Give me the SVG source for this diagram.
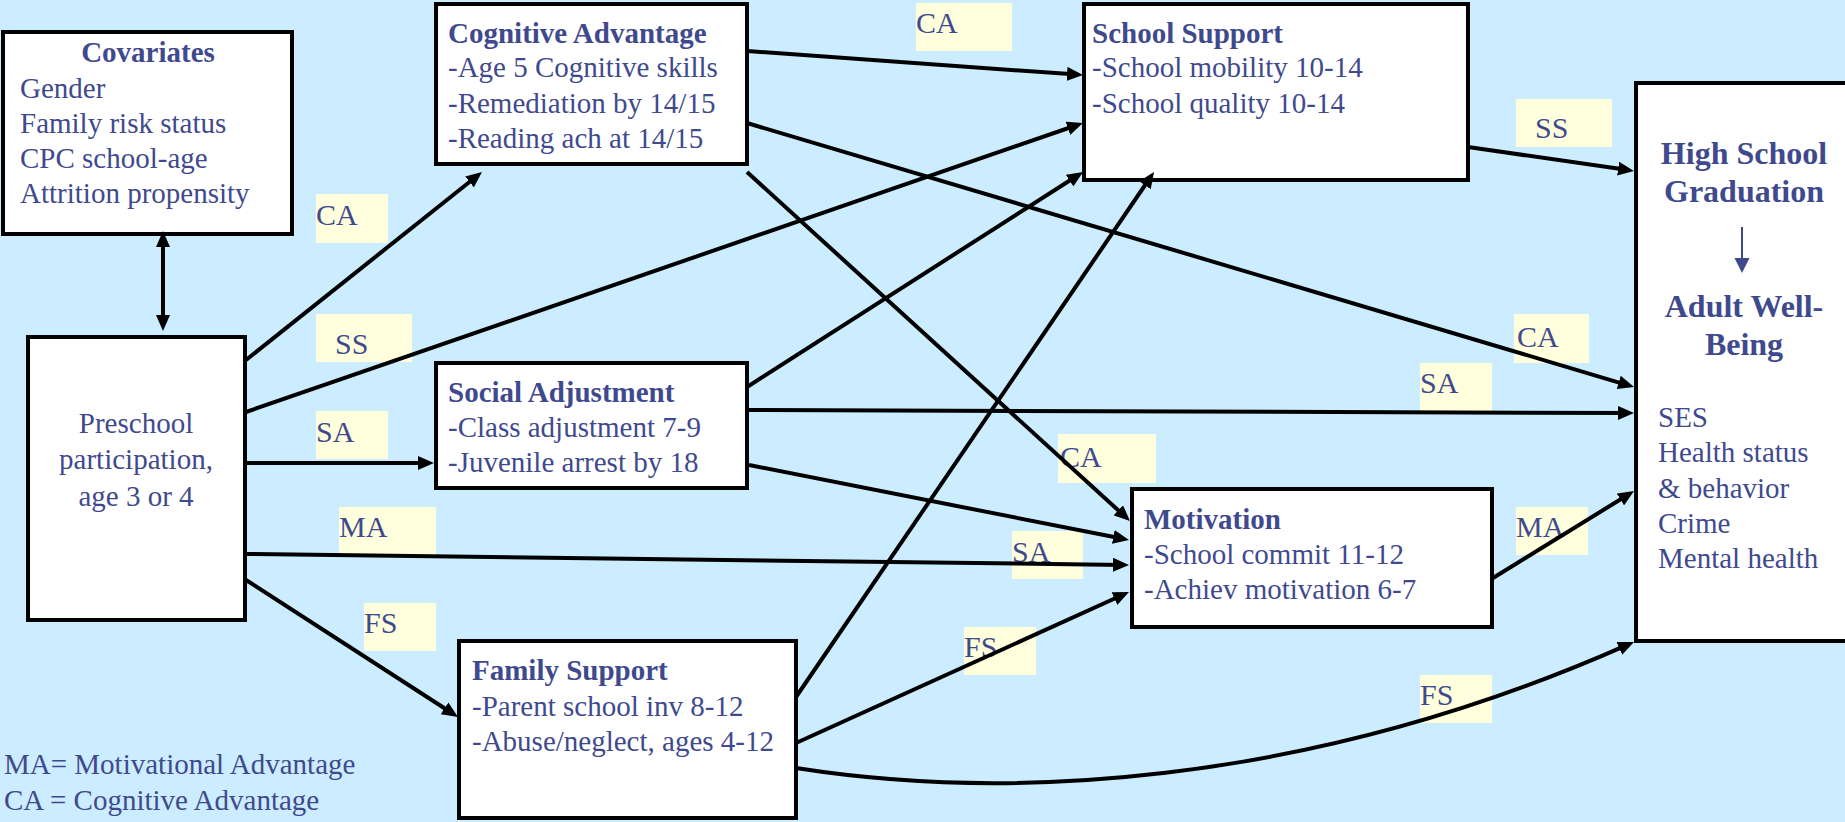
<svg xmlns="http://www.w3.org/2000/svg" width="1845" height="822" viewBox="0 0 1845 822">
<style>
.box{fill:#ffffff;stroke:#000000;stroke-width:4}
.t{font-family:"Liberation Serif","Times New Roman",serif;font-size:29px;fill:#3f4a8e}
.b{font-weight:bold}
.big{font-family:"Liberation Serif","Times New Roman",serif;font-size:32px;font-weight:bold;fill:#3f4a8e}
.lbl{fill:#ffffdd}
.lt{font-family:"Liberation Serif","Times New Roman",serif;font-size:30px;fill:#3f4a8e}
.c{fill:none;stroke:#000000;stroke-width:4}
</style>
<defs>
<marker id="ah" viewBox="0 0 16 14" refX="10" refY="7" markerWidth="16" markerHeight="14" markerUnits="userSpaceOnUse" orient="auto-start-reverse">
<path d="M0,0 L16,7 L0,14 z" fill="#000000"/>
</marker>
</defs>
<rect x="0" y="0" width="1845" height="822" fill="#ccecff"/>

<g id="labels">
<rect class="lbl" x="916" y="3" width="96" height="48"/><text class="lt" x="916" y="33">CA</text>
<rect class="lbl" x="316" y="194" width="72" height="49"/><text class="lt" x="316" y="225">CA</text>
<rect class="lbl" x="316" y="314" width="96" height="48"/><text class="lt" x="335" y="354">SS</text>
<rect class="lbl" x="316" y="411" width="72" height="48"/><text class="lt" x="316" y="442">SA</text>
<rect class="lbl" x="339" y="507" width="97" height="48"/><text class="lt" x="339" y="537">MA</text>
<rect class="lbl" x="364" y="603" width="72" height="48"/><text class="lt" x="364" y="633">FS</text>
<rect class="lbl" x="1058" y="434" width="98" height="49"/><text class="lt" x="1060" y="467">CA</text>
<rect class="lbl" x="1012" y="531" width="71" height="48"/><text class="lt" x="1012" y="562">SA</text>
<rect class="lbl" x="964" y="627" width="72" height="48"/><text class="lt" x="964" y="657">FS</text>
<rect class="lbl" x="1516" y="99" width="96" height="48"/><text class="lt" x="1535" y="138">SS</text>
<rect class="lbl" x="1514" y="314" width="75" height="49"/><text class="lt" x="1517" y="347">CA</text>
<rect class="lbl" x="1420" y="363" width="72" height="50"/><text class="lt" x="1420" y="393">SA</text>
<rect class="lbl" x="1516" y="507" width="72" height="48"/><text class="lt" x="1516" y="537">MA</text>
<rect class="lbl" x="1420" y="675" width="72" height="48"/><text class="lt" x="1420" y="705">FS</text>
</g>

<g id="covariates">
<rect class="box" x="3" y="32" width="289" height="202"/>
<text class="t b" x="148" y="62" text-anchor="middle">Covariates</text>
<text class="t" x="20" y="98">Gender</text>
<text class="t" x="20" y="133">Family risk status</text>
<text class="t" x="20" y="168">CPC school-age</text>
<text class="t" x="20" y="203">Attrition propensity</text>
</g>

<g id="preschool">
<rect class="box" x="28" y="337" width="217" height="283"/>
<text class="t" x="136" y="433" text-anchor="middle">Preschool</text>
<text class="t" x="136" y="469" text-anchor="middle">participation,</text>
<text class="t" x="136" y="506" text-anchor="middle">age 3 or 4</text>
</g>

<g id="cognitive">
<rect class="box" x="436" y="4" width="311" height="160"/>
<text class="t b" x="448" y="43">Cognitive Advantage</text>
<text class="t" x="448" y="77">-Age 5 Cognitive skills</text>
<text class="t" x="448" y="113">-Remediation by 14/15</text>
<text class="t" x="448" y="148">-Reading ach at 14/15</text>
</g>

<g id="social">
<rect class="box" x="436" y="363" width="311" height="125"/>
<text class="t b" x="448" y="402">Social Adjustment</text>
<text class="t" x="448" y="437">-Class adjustment 7-9</text>
<text class="t" x="448" y="472">-Juvenile arrest by 18</text>
</g>

<g id="family">
<rect class="box" x="459" y="641" width="337" height="177"/>
<text class="t b" x="472" y="680">Family Support</text>
<text class="t" x="472" y="716">-Parent school inv 8-12</text>
<text class="t" x="472" y="751">-Abuse/neglect, ages 4-12</text>
</g>

<g id="school">
<rect class="box" x="1084" y="4" width="384" height="176"/>
<text class="t b" x="1092" y="43">School Support</text>
<text class="t" x="1092" y="77">-School mobility 10-14</text>
<text class="t" x="1092" y="113">-School quality 10-14</text>
</g>

<g id="motivation">
<rect class="box" x="1132" y="489" width="360" height="138"/>
<text class="t b" x="1144" y="529">Motivation</text>
<text class="t" x="1144" y="564">-School commit 11-12</text>
<text class="t" x="1144" y="599">-Achiev motivation 6-7</text>
</g>

<g id="outcome">
<rect class="box" x="1636" y="83" width="220" height="558"/>
<text class="big" x="1744" y="164" text-anchor="middle">High School</text>
<text class="big" x="1744" y="202" text-anchor="middle">Graduation</text>
<line x1="1742" y1="227" x2="1742" y2="260" stroke="#3f4a8e" stroke-width="2"/>
<path d="M1734.5,258 L1749.5,258 L1742,273 z" fill="#3f4a8e"/>
<text class="big" x="1744" y="317" text-anchor="middle">Adult Well-</text>
<text class="big" x="1744" y="355" text-anchor="middle">Being</text>
<text class="t" x="1658" y="427">SES</text>
<text class="t" x="1658" y="462">Health status</text>
<text class="t" x="1658" y="498">&amp; behavior</text>
<text class="t" x="1658" y="533">Crime</text>
<text class="t" x="1658" y="568">Mental health</text>
</g>

<g id="legend">
<text class="t" x="4" y="774">MA= Motivational Advantage</text>
<text class="t" x="4" y="810">CA = Cognitive Advantage</text>
</g>

<g id="connectors">
<path class="c" d="M163,237 L163,325" marker-start="url(#ah)" marker-end="url(#ah)"/>
<path class="c" d="M246,360 L477.3,175.7" marker-end="url(#ah)"/>
<path class="c" d="M246,412 L1077.3,125" marker-end="url(#ah)"/>
<path class="c" d="M246,463 L428,463" marker-end="url(#ah)"/>
<path class="c" d="M246,554 L1123,564.9" marker-end="url(#ah)"/>
<path class="c" d="M246,580 L453,713.7" marker-end="url(#ah)"/>
<path class="c" d="M747,51 L1077,74.6" marker-end="url(#ah)"/>
<path class="c" d="M747,123 L1628.3,385.3" marker-end="url(#ah)"/>
<path class="c" d="M747,172 L1125.6,517" marker-end="url(#ah)"/>
<path class="c" d="M747,387 L1078,175.2" marker-end="url(#ah)"/>
<path class="c" d="M748,410 L1628,413" marker-end="url(#ah)"/>
<path class="c" d="M749,465 L1123.1,538.8" marker-end="url(#ah)"/>
<path class="c" d="M796,697 L1150.6,177" marker-end="url(#ah)"/>
<path class="c" d="M796,743 L1123.5,594.5" marker-end="url(#ah)"/>
<path class="c" d="M796,768 C1000,800 1300,790 1628.5,644.4" marker-end="url(#ah)"/>
<path class="c" d="M1468,147 L1628,170.1" marker-end="url(#ah)"/>
<path class="c" d="M1493,578 L1628.9,494.2" marker-end="url(#ah)"/>
</g>
</svg>
